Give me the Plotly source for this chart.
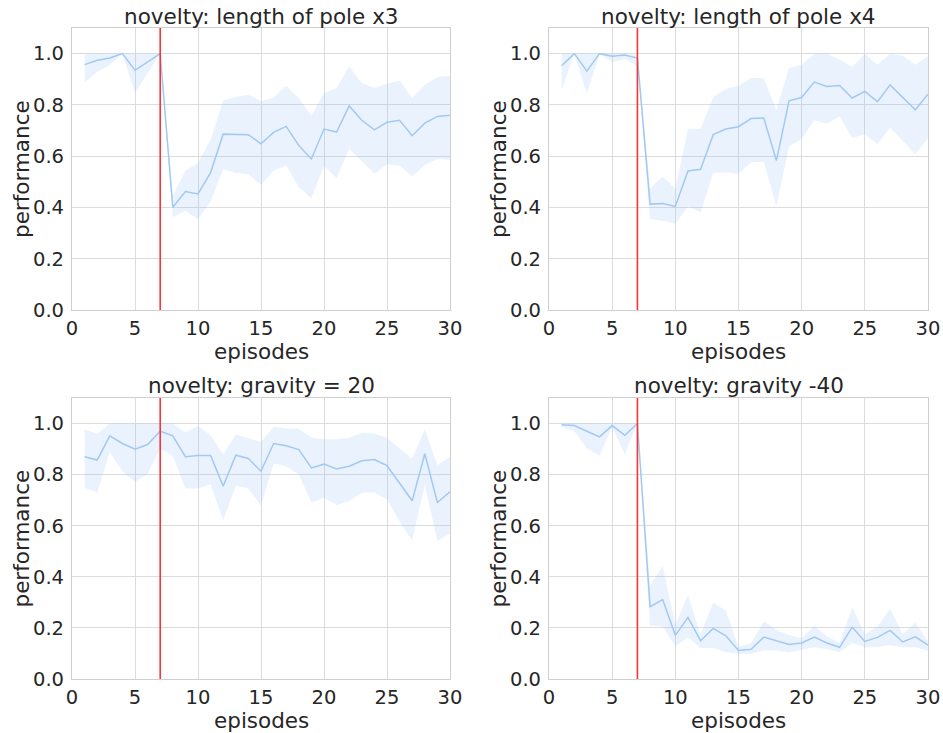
import plotly.graph_objects as go

episodes = list(range(1, 31))
novelty_episode = 7

titles = ["novelty: length of pole x3", "novelty: length of pole x4",
          "novelty: gravity = 20", "novelty: gravity -40"]

pole3_mean = [0.957, 0.974, 0.983, 1.0, 0.935, 0.967, 1.0, 0.401, 0.462, 0.453,
              0.536, 0.686, 0.685, 0.684, 0.648, 0.693, 0.716, 0.642, 0.589, 0.706,
              0.694, 0.796, 0.740, 0.703, 0.732, 0.740, 0.680, 0.729, 0.755, 0.760]
pole3_upper = [1.0, 1.0, 1.0, 1.0, 1.0, 1.0, 1.0, 0.445, 0.544, 0.573,
               0.664, 0.818, 0.831, 0.840, 0.814, 0.829, 0.875, 0.827, 0.758, 0.846,
               0.866, 0.951, 0.885, 0.866, 0.883, 0.895, 0.827, 0.879, 0.909, 0.914]
pole3_lower = [0.888, 0.928, 0.957, 1.0, 0.846, 0.924, 1.0, 0.362, 0.387, 0.354,
               0.423, 0.549, 0.534, 0.530, 0.488, 0.544, 0.564, 0.479, 0.436, 0.563,
               0.514, 0.629, 0.579, 0.531, 0.568, 0.564, 0.521, 0.566, 0.589, 0.586]

pole4_mean = [0.953, 1.0, 0.932, 1.0, 0.990, 0.995, 0.983, 0.413, 0.415, 0.404,
              0.542, 0.549, 0.684, 0.706, 0.715, 0.747, 0.749, 0.583, 0.816, 0.829,
              0.889, 0.872, 0.876, 0.827, 0.853, 0.813, 0.878, 0.829, 0.781, 0.842]
pole4_upper = [1.0, 1.0, 1.0, 1.0, 1.0, 1.0, 0.995, 0.475, 0.521, 0.473,
               0.706, 0.707, 0.831, 0.862, 0.875, 0.905, 0.904, 0.781, 0.944, 0.957,
               1.0, 1.0, 0.977, 0.948, 1.0, 0.957, 1.0, 0.992, 0.957, 0.990]
pole4_lower = [0.857, 1.0, 0.844, 1.0, 0.966, 0.979, 0.951, 0.354, 0.348, 0.336,
               0.404, 0.380, 0.534, 0.536, 0.531, 0.576, 0.578, 0.404, 0.638, 0.667,
               0.740, 0.727, 0.755, 0.671, 0.686, 0.647, 0.712, 0.658, 0.608, 0.671]

grav20_mean = [0.870, 0.857, 0.952, 0.922, 0.900, 0.918, 0.970, 0.952, 0.870, 0.875,
               0.875, 0.755, 0.876, 0.863, 0.813, 0.922, 0.913, 0.898, 0.826, 0.841,
               0.822, 0.833, 0.854, 0.859, 0.835, 0.766, 0.698, 0.882, 0.691, 0.733]
grav20_upper = [0.978, 0.960, 1.0, 1.0, 1.0, 1.0, 1.0, 1.0, 0.965, 0.991,
                0.954, 0.879, 0.957, 0.944, 0.928, 0.987, 0.980, 0.980, 0.944, 0.939,
                0.939, 0.944, 0.964, 0.961, 0.944, 0.902, 0.863, 0.978, 0.837, 0.870]
grav20_lower = [0.749, 0.729, 0.887, 0.814, 0.770, 0.803, 0.900, 0.874, 0.746, 0.746,
                0.762, 0.620, 0.757, 0.746, 0.677, 0.844, 0.833, 0.801, 0.690, 0.710,
                0.681, 0.697, 0.729, 0.730, 0.703, 0.616, 0.542, 0.759, 0.540, 0.570]

grav40_mean = [0.995, 0.992, 0.970, 0.948, 0.992, 0.954, 1.0, 0.283, 0.311, 0.171,
               0.241, 0.150, 0.198, 0.169, 0.112, 0.116, 0.164, 0.150, 0.135, 0.141,
               0.164, 0.141, 0.124, 0.203, 0.147, 0.163, 0.190, 0.145, 0.165, 0.133]
grav40_upper = [1.0, 1.0, 1.0, 1.0, 1.0, 1.0, 1.0, 0.366, 0.443, 0.212,
                0.329, 0.174, 0.299, 0.267, 0.125, 0.141, 0.225, 0.193, 0.171, 0.160,
                0.208, 0.167, 0.141, 0.281, 0.176, 0.206, 0.275, 0.176, 0.221, 0.147]
grav40_lower = [0.987, 0.970, 0.902, 0.874, 0.987, 0.880, 1.0, 0.208, 0.206, 0.128,
                0.163, 0.121, 0.121, 0.105, 0.098, 0.099, 0.112, 0.112, 0.104, 0.115,
                0.124, 0.117, 0.105, 0.141, 0.124, 0.125, 0.132, 0.124, 0.124, 0.111]

x_ticks = [0, 5, 10, 15, 20, 25, 30]
y_ticks = [0.0, 0.2, 0.4, 0.6, 0.8, 1.0]
y_tick_labels = ["0.0", "0.2", "0.4", "0.6", "0.8", "1.0"]

series = [
    (pole3_mean, pole3_upper, pole3_lower),
    (pole4_mean, pole4_upper, pole4_lower),
    (grav20_mean, grav20_upper, grav20_lower),
    (grav40_mean, grav40_upper, grav40_lower),
]

W, H = 943, 733
ml, mr, mt, mb = 72, W - 928, 28, H - 679
pw = W - ml - mr
ph = H - mt - mb
xdoms = [[0, (450 - ml) / pw], [(549 - ml) / pw, 1.0]]
ydoms = [[(H - mb - 310) / ph, 1.0], [0, (H - mb - 398) / ph]]

LINE = "#a1c9f4"
FILL = "rgba(161,201,244,0.22)"
TXT = "#262626"
FONT = "DejaVu Sans"

fig = go.Figure()
annotations = []
shapes = []

for i, (mean, up, lo) in enumerate(series):
    r, c = divmod(i, 2)
    n = i + 1
    xa = "x" if n == 1 else f"x{n}"
    ya = "y" if n == 1 else f"y{n}"
    fig.add_trace(go.Scatter(x=episodes, y=up, mode="lines", line=dict(width=0),
                             hoverinfo="skip", showlegend=False, xaxis=xa, yaxis=ya))
    fig.add_trace(go.Scatter(x=episodes, y=lo, mode="lines", line=dict(width=0),
                             fill="tonexty", fillcolor=FILL, hoverinfo="skip",
                             showlegend=False, xaxis=xa, yaxis=ya))
    fig.add_trace(go.Scatter(x=episodes, y=mean, mode="lines",
                             line=dict(color=LINE, width=1.5),
                             showlegend=False, xaxis=xa, yaxis=ya))
    axis_common = dict(showgrid=True, gridcolor="#dcdcdc", gridwidth=1,
                       showline=True, linecolor="#cfcfcf", linewidth=1.2, mirror=True,
                       zeroline=False, ticks="", automargin=False,
                       tickfont=dict(family=FONT, size=19.5, color=TXT))
    fig.update_layout({
        ("xaxis" if n == 1 else f"xaxis{n}"): dict(
            domain=xdoms[c], anchor=ya, range=[0, 30], tickvals=x_ticks,
            ticklabelstandoff=0, **axis_common),
        ("yaxis" if n == 1 else f"yaxis{n}"): dict(
            domain=ydoms[r], anchor=xa, range=[0, 1.1], tickvals=y_ticks,
            ticktext=y_tick_labels, ticklabelstandoff=3, **axis_common),
    })
    shapes.append(dict(type="line", xref=xa, yref=f"{ya} domain",
                       x0=novelty_episode, x1=novelty_episode, y0=0, y1=1,
                       line=dict(color="#ff3333", width=1.6), layer="above"))
    xc = (xdoms[c][0] + xdoms[c][1]) / 2
    annotations.append(dict(text=titles[i], xref="paper", yref="paper",
                            x=xc, y=ydoms[r][1], xanchor="center", yanchor="middle",
                            yshift=12 if r == 0 else 12.5,
                            showarrow=False, font=dict(family=FONT, size=21.5, color=TXT)))
    annotations.append(dict(text="episodes", xref="paper", yref="paper",
                            x=xc, y=ydoms[r][0], xanchor="center", yanchor="middle", yshift=-41,
                            showarrow=False, font=dict(family=FONT, size=21.5, color=TXT)))
    yc = (ydoms[r][0] + ydoms[r][1]) / 2
    annotations.append(dict(text="performance", xref="paper", yref="paper",
                            x=xdoms[c][0], y=yc, xanchor="center", yanchor="middle",
                            xshift=-51, textangle=-90,
                            showarrow=False, font=dict(family=FONT, size=21.5, color=TXT)))

fig.update_layout(width=W, height=H, margin=dict(l=ml, r=mr, t=mt, b=mb, autoexpand=False),
                  paper_bgcolor="white", plot_bgcolor="white",
                  annotations=annotations, shapes=shapes,
                  font=dict(family=FONT, color=TXT))

fig.write_html("out.html", config={"displayModeBar": False},
               post_script="document.body.style.margin='0';document.body.style.overflow='hidden';")
